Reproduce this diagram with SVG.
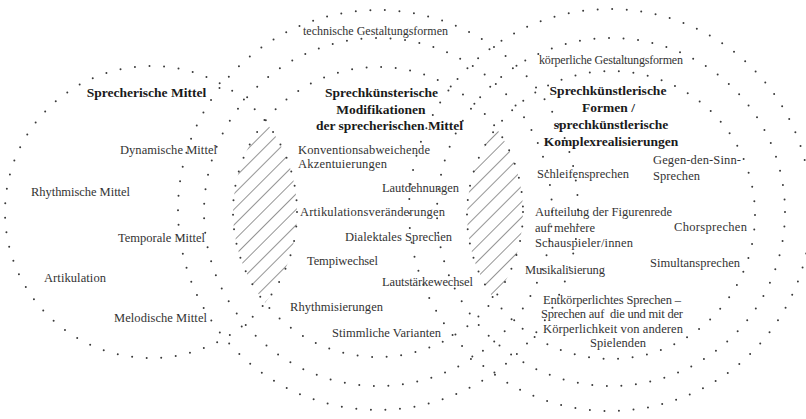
<svg xmlns="http://www.w3.org/2000/svg" width="806" height="419" viewBox="0 0 806 419">
  <style>
    .ring { fill: none; stroke: #3a3a3a; stroke-width: 2; stroke-linecap: round; stroke-dasharray: 0 14.6; }
    .t { font-family: "Liberation Serif", "DejaVu Serif", serif; font-size: 12.5px; fill: #333; }
    .s { font-family: "Liberation Serif", "DejaVu Serif", serif; font-size: 12px; fill: #333; }
    .b { font-family: "Liberation Serif", "DejaVu Serif", serif; font-size: 13.5px; font-weight: bold; fill: #1a1a1a; text-anchor: middle; }
  </style>
  <defs>
    <pattern id="hatch" patternUnits="userSpaceOnUse" width="11" height="11" patternTransform="rotate(45)">
      <line x1="5.5" y1="0" x2="5.5" y2="11" stroke="#7a7a7a" stroke-width="0.8"/>
    </pattern>
    <clipPath id="clipM1"><circle cx="378" cy="212" r="145"/></clipPath>
    <clipPath id="clipR1"><circle cx="611" cy="215" r="144"/></clipPath>
  </defs>

  <rect width="806" height="419" fill="#fff"/>

  <!-- hatched overlaps -->
  <g id="overlaps">
    <circle cx="151" cy="212" r="146" fill="url(#hatch)" clip-path="url(#clipM1)"/>
    <circle cx="378" cy="212" r="145" fill="url(#hatch)" clip-path="url(#clipR1)"/>
  </g>

  <!-- left: speech means -->
  <g id="sprecherische-mittel">
    <circle class="ring" cx="151" cy="212" r="146"/>
    <text class="b" x="146.5" y="97">Sprecherische Mittel</text>
    <text class="t" x="120" y="154" textLength="97">Dynamische Mittel</text>
    <text class="t" x="31" y="196" textLength="99">Rhythmische Mittel</text>
    <text class="t" x="118" y="242" textLength="87">Temporale Mittel</text>
    <text class="t" x="44" y="282" textLength="62">Artikulation</text>
    <text class="t" x="114" y="322" textLength="93">Melodische Mittel</text>
  </g>

  <!-- middle: modifications -->
  <g id="modifikationen">
    <circle class="ring" cx="378" cy="210" r="200"/>
    <circle class="ring" cx="378" cy="212" r="174"/>
    <circle class="ring" cx="378" cy="212" r="145"/>
    <text class="s" x="303" y="35" textLength="145">technische Gestaltungsformen</text>
    <text class="b" x="381.5" y="97">Sprechkünsterische</text>
    <text class="b" x="381" y="114">Modifikationen</text>
    <text class="b" x="389.5" y="130">der sprecherischen Mittel</text>
    <text class="t" x="298" y="154" textLength="132">Konventionsabweichende</text>
    <text class="t" x="298" y="168" textLength="89">Akzentuierungen</text>
    <text class="t" x="382" y="192" textLength="77">Lautdehnungen</text>
    <text class="t" x="300" y="216" textLength="145">Artikulationsveränderungen</text>
    <text class="t" x="345" y="241" textLength="107">Dialektales Sprechen</text>
    <text class="t" x="307" y="265" textLength="71">Tempiwechsel</text>
    <text class="t" x="382" y="286" textLength="91">Lautstärkewechsel</text>
    <text class="t" x="290" y="311" textLength="93">Rhythmisierungen</text>
    <text class="t" x="332" y="337" textLength="109">Stimmliche Varianten</text>
  </g>

  <!-- right: artistic forms -->
  <g id="formen">
    <circle class="ring" cx="610" cy="210" r="201"/>
    <circle class="ring" cx="611" cy="212" r="174"/>
    <circle class="ring" cx="611" cy="215" r="144"/>
    <text class="s" x="539" y="64" textLength="144">körperliche Gestaltungsformen</text>
    <text class="b" x="608" y="95">Sprechkünstlerische</text>
    <text class="b" x="608.5" y="112">Formen /</text>
    <text class="b" x="611" y="129">sprechkünstlerische</text>
    <text class="b" x="611" y="146">Komplexrealisierungen</text>
    <text class="t" x="537" y="178" textLength="92">Schleifensprechen</text>
    <text class="t" x="653" y="164" textLength="88">Gegen-den-Sinn-</text>
    <text class="t" x="653" y="180" textLength="47">Sprechen</text>
    <text class="t" x="535" y="216" textLength="137">Aufteilung der Figurenrede</text>
    <text class="t" x="535" y="232" textLength="60">auf mehrere</text>
    <text class="t" x="535" y="247" textLength="98">Schauspieler/innen</text>
    <text class="t" x="674" y="231" textLength="73">Chorsprechen</text>
    <text class="t" x="650" y="267" textLength="90">Simultansprechen</text>
    <text class="t" x="525" y="274" textLength="80">Musikalisierung</text>
    <text class="t" x="543" y="304" textLength="138">Entkörperlichtes Sprechen –</text>
    <text class="t" x="541" y="318" textLength="142" xml:space="preserve">Sprechen auf  die und mit der</text>
    <text class="t" x="543" y="333" textLength="140">Körperlichkeit von anderen</text>
    <text class="t" x="590" y="347" textLength="56">Spielenden</text>
  </g>
</svg>
